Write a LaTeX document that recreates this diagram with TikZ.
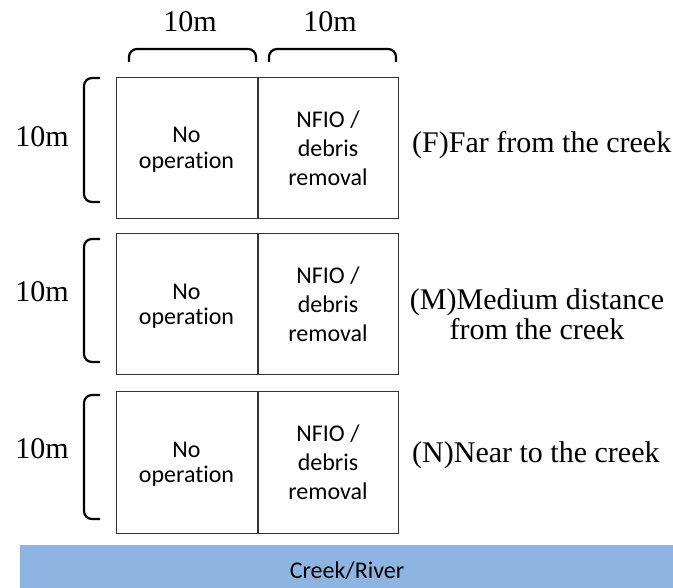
\documentclass[tikz,border=0pt]{standalone}
\usepackage{fontspec}
\setmainfont{Liberation Serif}
\newfontfamily\calibri[Ligatures=NoCommon]{Carlito}
\usetikzlibrary{positioning}
\definecolor{creekblue}{HTML}{8EB4E2}
\tikzstyle{cell} = [rectangle,draw=black!80,line width=1pt,minimum width=141pt,minimum height=141pt,inner sep=0pt,align=center]
\tikzstyle{noop} = [cell,text depth=0pt,font=\calibri\fontsize{24}{25.6}\selectfont]
\tikzstyle{nfio} = [cell,minimum width=140pt,font=\calibri\fontsize{24}{29.2}\selectfont]
\tikzstyle{dim} = [inner sep=0pt,font=\fontsize{30}{30}\selectfont]
\tikzstyle{zone} = [inner sep=0pt,align=center,font=\fontsize{30}{30}\selectfont]
\tikzstyle{brace} = [line width=2.2pt,rounded corners=8pt]

\begin{document}
\begin{tikzpicture}[x=1pt,y=-1pt]
	\useasboundingbox (0,0) rectangle (673,588);

	% plots
	\node[noop](nof) at (186.5,148) {No\\operation};
	\node[nfio,right=0pt of nof](nfiof) {NFIO /\\debris\\removal};
	\node[noop,below=14.5pt of nof](nom) {No\\operation};
	\node[nfio,right=0pt of nom](nfiom) {NFIO /\\debris\\removal};
	\node[noop,below=16pt of nom](non) {No\\operation};
	\node[nfio,right=0pt of non](nfion) {NFIO /\\debris\\removal};

	% widths
	\node[dim,anchor=base](widthl) at (190,32) {10m};
	\node[dim,anchor=base](widthr) at (330,32) {10m};
	\draw[brace] (129,62) -- (129,49) -- (256,49) -- (256,62);
	\draw[brace] (269,62) -- (269,49) -- (396,49) -- (396,62);

	% heights
	\node[dim,anchor=base](heightf) at (42,147) {10m};
	\node[dim,anchor=base](heightm) at (42,302) {10m};
	\node[dim,anchor=base](heightn) at (42,458) {10m};
	\draw[brace] (100,78) -- (84,78) -- (84,202) -- (100,202);
	\draw[brace] (100,239) -- (84,239) -- (84,362) -- (100,362);
	\draw[brace] (100,395) -- (84,395) -- (84,519) -- (100,519);

	% distance from the creek
	\node[zone,anchor=base west](far) at (412,153) {(F)Far from the creek};
	\node[zone](medium) at (537,314) {(M)Medium distance\\from the creek};
	\node[zone,anchor=base west](near) at (412,463) {(N)Near to the creek};

	% creek
	\fill[creekblue] (20,545) rectangle (673,588);
	\node[anchor=base,inner sep=0pt,font=\calibri\fontsize{24}{26}\selectfont](creek) at (347,578) {Creek/River};

\end{tikzpicture}
\end{document}
